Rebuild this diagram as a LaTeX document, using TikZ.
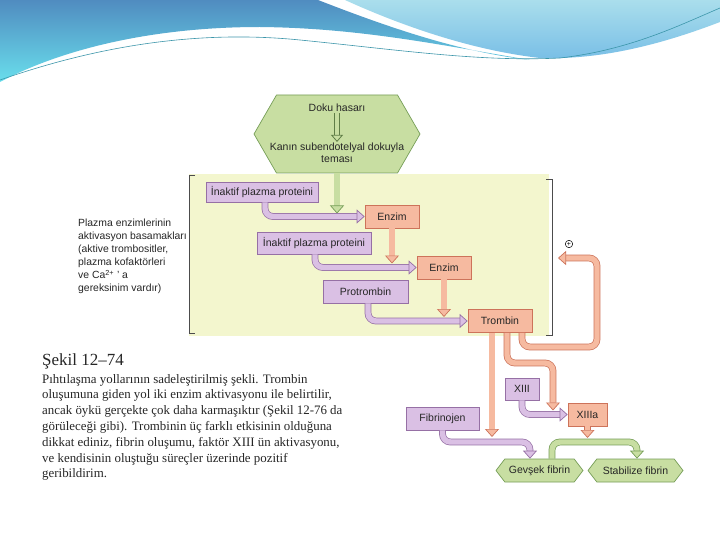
\documentclass[tikz,border=0pt]{standalone}
\usepackage{fontspec}
\setmainfont{Liberation Serif}
\setsansfont{Liberation Sans}
\usetikzlibrary{arrows.meta,shapes.symbols}
\definecolor{yelBg}{RGB}{243,246,206}
\definecolor{purpFill}{RGB}{218,192,228}
\definecolor{purpEdge}{RGB}{150,112,165}
\definecolor{salFill}{RGB}{246,186,160}
\definecolor{salEdge}{RGB}{205,115,90}
\definecolor{grnFill}{RGB}{200,222,162}
\definecolor{grnEdge}{RGB}{118,158,88}
\definecolor{grnDark}{RGB}{95,125,70}
\definecolor{waveDark}{RGB}{80,140,192}
\definecolor{waveCyan}{RGB}{105,222,236}
\definecolor{waveLight}{RGB}{170,222,236}
\definecolor{waveSky}{RGB}{120,190,230}
\definecolor{waveLine}{RGB}{60,150,170}
\tikzset{
  box/.style={draw, line width=0.7pt, minimum height=23pt, inner sep=2pt,
    font=\sffamily\fontsize{10.5}{12}\selectfont, text=black!85},
  purpbox/.style={box, draw=purpEdge, fill=purpFill},
  salbox/.style={box, draw=salEdge, fill=salFill},
  grnhex/.style={box, shape=signal, signal to=west and east,
    signal pointer angle=105, draw=grnEdge, fill=grnFill},
  pipe/.style={line width=0.7pt, double distance=5.4pt, rounded corners=8pt},
  pipeP/.style={pipe, draw=purpEdge, double=purpFill,
    -{Triangle[length=8pt,width=14pt,line width=0.7pt,color=purpEdge,fill=purpFill]}},
  pipeO/.style={pipe, draw=salEdge, double=salFill,
    -{Triangle[length=8pt,width=14pt,line width=0.7pt,color=salEdge,fill=salFill]}},
  pipeG/.style={pipe, draw=grnEdge, double=grnFill,
    -{Triangle[length=8pt,width=14pt,line width=0.7pt,color=grnEdge,fill=grnFill]}},
  hollow/.style={line width=0.8pt, double distance=4.2pt, draw=grnDark, double=grnFill,
    -{Triangle[length=7pt,width=12pt,line width=0.8pt,color=grnDark,fill=grnFill]}},
  lbl/.style={font=\sffamily\fontsize{10.5}{12}\selectfont, text=black!85, inner sep=1pt}
}
\begin{document}
\begin{tikzpicture}[x=1pt, y=-1pt]
\useasboundingbox (0,0) rectangle (720,540);
\fill[white] (0,0) rectangle (720,540);
% slide top wave
\shade[top color=waveDark, bottom color=waveCyan] (0,0) -- (318,0)
  .. controls (390,28) and (460,52) .. (530,60)
  .. controls (440,45) and (360,28) .. (260,27)
  .. controls (150,27) and (60,50) .. (0,82) -- cycle;
\shade[top color=waveLight, bottom color=waveSky] (345,0) -- (720,0) -- (720,22)
  .. controls (660,45) and (600,60) .. (540,58)
  .. controls (470,50) and (400,25) .. (345,0) -- cycle;
\draw[waveLine, line width=0.6pt] (0,80) .. controls (100,45) and (200,30) .. (300,40)
  .. controls (400,50) and (480,62) .. (560,58) .. controls (630,50) and (680,25) .. (720,8);
% activation area
\fill[yelBg] (189,174) rectangle (549,336);
\draw[black!70, line width=0.6pt] (195,175) -- (189,175) -- (189,333) -- (195,333);
\draw[black!70, line width=0.6pt] (546,179) -- (552,179) -- (552,335) -- (546,335);
% nodes
\node[grnhex, signal pointer angle=120, minimum width=166pt, minimum height=78pt] (hasar) at (337,134) {};
\node[lbl] (doku) at (337,108) {Doku hasarı};
\node[lbl, align=center] (temas) at (337,153) {Kanın subendotelyal dokuyla\\teması};
\node[purpbox, minimum width=112pt, minimum height=20pt] (ina1) at (262,192) {İnaktif plazma proteini};
\node[salbox, minimum width=54pt] (enz1) at (392,216.5) {Enzim};
\node[purpbox, minimum width=114pt, minimum height=22pt] (ina2) at (314,243) {İnaktif plazma proteini};
\node[salbox, minimum width=54pt] (enz2) at (444,267.5) {Enzim};
\node[purpbox, minimum width=85pt] (pro) at (365.5,291.5) {Protrombin};
\node[salbox, minimum width=64pt] (trom) at (500,321) {Trombin};
\node[purpbox, minimum width=34pt, minimum height=22pt] (xiii) at (522,389) {XIII};
\node[salbox, minimum width=39pt] (xiiia) at (587.5,414.5) {XIIIa};
\node[purpbox, minimum width=73pt] (fib) at (442.5,418.5) {Fibrinojen};
\node[grnhex, minimum width=87pt] (gev) at (539.5,470.5) {Gevşek fibrin};
\node[grnhex, minimum width=95pt] (stab) at (635.5,470.5) {Stabilize fibrin};
\node[draw, circle, inner sep=0.6pt, line width=0.5pt, font=\sffamily\fontsize{7}{7}\selectfont] (plus) at (569,244) {+};
\coordinate (tkA) at (553,363);
\coordinate (fbA) at (597,347);
\coordinate (fbB) at (597,258);
\coordinate (fbEnd) at (558,258);
\coordinate (fibTurn) at (530,442);
\coordinate (gTurn) at (637,442);
% connectors
\draw[hollow] (doku.south) -- (temas.north);
\draw[pipeG, shorten >=3pt] (hasar.south) -- (hasar.south |- enz1.west);
\draw[pipeP] ([xshift=3pt]ina1.south) |- (enz1.west);
\draw[pipeO, shorten >=4pt] (enz1.south) -- (enz1.south |- enz2.west);
\draw[pipeP] ([xshift=1pt]ina2.south) |- (enz2.west);
\draw[pipeO, shorten >=4pt] (enz2.south) -- (enz2.south |- trom.west);
\draw[pipeP] ([xshift=2.5pt]pro.south) |- (trom.west);
\draw[pipeO, shorten >=5pt] ([xshift=-8pt]trom.south) -- ([xshift=-8pt]trom.south |- fibTurn);
\draw[pipeO, shorten >=4pt] ([xshift=7pt]trom.south) |- (tkA) -- (tkA |- xiiia.west);
\draw[pipeO] ([xshift=22pt]trom.south) |- (fbA) -- (fbB) -- (fbEnd);
\draw[pipeP] (xiii.south) |- (xiiia.west);
\draw[pipeP] (fib.south) |- (fibTurn) -- (fibTurn |- gev.north);
\draw[pipeG] ([xshift=12.5pt]gev.north) |- (gTurn) -- (gTurn |- stab.north);
\draw[pipeO, shorten >=4pt] (xiiia.south) -- (xiiia.south |- gTurn);
% side note and caption
\node[anchor=north west, align=left, inner sep=0pt, text=black!85,
  font=\sffamily\fontsize{10.4}{13}\selectfont] (note) at (78,219)
  {Plazma enzimlerinin\\aktivasyon basamakları\\(aktive trombositler,\\plazma kofaktörleri\\ve Ca\textsuperscript{2+} ' a\\gereksinim vardır)};
\node[anchor=base west, inner sep=0pt, text=black!85, font=\fontsize{17}{20}\selectfont] (sekil) at (42,365) {Şekil 12--74};
\node[anchor=north west, align=left, inner sep=0pt, text=black!85,
  font=\fontsize{12.9}{15.8}\selectfont] (cap) at (42,374)
  {Pıhtılaşma yollarının sadeleştirilmiş şekli. Trombin\\
   oluşumuna giden yol iki enzim aktivasyonu ile belirtilir,\\
   ancak öykü gerçekte çok daha karmaşıktır (Şekil 12-76 da\\
   görüleceği gibi). Trombinin üç farklı etkisinin olduğuna\\
   dikkat ediniz, fibrin oluşumu, faktör XIII ün aktivasyonu,\\
   ve kendisinin oluştuğu süreçler üzerinde pozitif\\
   geribildirim.};
\end{tikzpicture}
\end{document}
